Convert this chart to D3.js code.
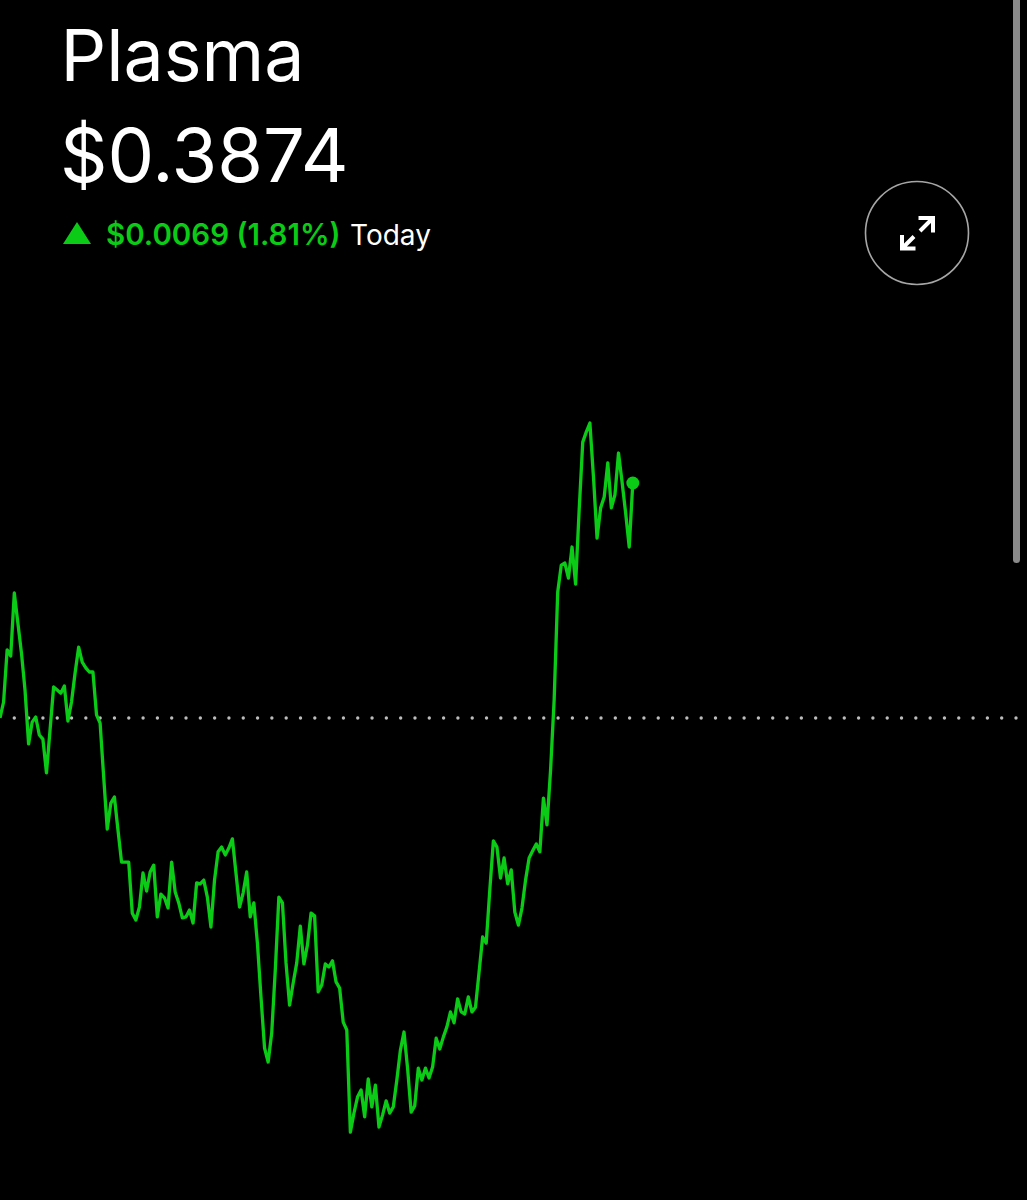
<!DOCTYPE html>
<html>
<head>
<meta charset="utf-8">
<style>
  html, body { margin: 0; background: #000; }
  svg { display: block; }
  text { font-family: Inter, "Noto Sans", sans-serif; }
</style>
</head>
<body>
<svg id="chart" width="1027" height="1200"></svg>
<script src="https://cdn.jsdelivr.net/npm/d3@7"></script>
<script>
const TITLE = "Plasma";
const LAST_PRICE = 0.3874;
const PREV_CLOSE = 0.3805;
const PRICE_LABEL = "$0.3874";
const CHANGE_LABEL = "$0.0069 (1.81%)";
const PERIOD_LABEL = "Today";

// one price per tick
const prices = [
  .38050,.38097,.38250,.38232,.38417,.38329,.38241,.38132,.37974,.38038,
  .38053,.38000,.37988,.37889,.38015,.38141,.38132,.38123,.38144,.38041,
  .38097,.38182,.38258,.38214,.38197,.38185,.38185,.38059,.38035,.37877,
  .37724,.37800,.37818,.37721,.37627,.37627,.37627,.37477,.37457,.37495,
  .37595,.37542,.37598,.37618,.37466,.37533,.37522,.37492,.37627,.37539,
  .37507,.37463,.37466,.37486,.37448,.37566,.37563,.37574,.37524,.37436,
  .37574,.37657,.37671,.37648,.37668,.37695,.37595,.37495,.37536,.37598,
  .37466,.37507,.37389,.37231,.37081,.37040,.37125,.37310,.37524,.37507,
  .37331,.37207,.37272,.37331,.37439,.37328,.37384,.37477,.37469,.37246,
  .37266,.37328,.37319,.37337,.37275,.37257,.37157,.37134,.36834,.36890,
  .36937,.36958,.36879,.36990,.36908,.36972,.36849,.36884,.36926,.36890,
  .36908,.36987,.37075,.37128,.37022,.36893,.36911,.37022,.36987,.37022,
  .36993,.37025,.37110,.37078,.37113,.37143,.37187,.37155,.37225,.37187,
  .37181,.37231,.37187,.37201,.37304,.37407,.37389,.37545,.37689,.37671,
  .37580,.37639,.37563,.37604,.37480,.37442,.37492,.37574,.37639,.37660,
  .37680,.37657,.37815,.37736,.37897,.38103,.38420,.38499,.38505,.38461,
  .38552,.38443,.38661,.38860,.38890,.38916,.38758,.38578,.38667,.38699,
  .38799,.38667,.38705,.38828,.38743,.38652,.38552,.38740
];

const GREEN = "#0bcb17";
const svg = d3.select("#chart");

const x = d3.scaleLinear().domain([0, prices.length - 1]).range([0, 632.8]);
const y = d3.scaleLinear().domain([PREV_CLOSE, LAST_PRICE]).range([718, 483]);

// ── Header ──
svg.append("text").attr("x", 60.5).attr("y", 81)
  .attr("font-size", 71.6).attr("fill", "#fff").text(TITLE);
svg.append("text").attr("x", 60).attr("y", 182)
  .attr("font-size", 74).attr("fill", "#fff").text(PRICE_LABEL);

svg.append("path")
  .attr("d", "M63,244L91,244L77,222Z")
  .attr("fill", GREEN);
svg.append("text").attr("x", 106).attr("y", 245)
  .attr("font-size", 29.5).attr("font-weight", 600).attr("fill", GREEN).text(CHANGE_LABEL);
svg.append("text").attr("x", 350).attr("y", 245)
  .attr("font-size", 28).attr("fill", "#fff").text(PERIOD_LABEL);

// ── Expand button ──
svg.append("circle")
  .attr("cx", 917).attr("cy", 233).attr("r", 51.5)
  .attr("fill", "none").attr("stroke", "#a6a6a6").attr("stroke-width", 1.6);
svg.append("path")
  .attr("d", "M918.5,218H933V232.5M933,218L920,231M902,235V248.5H915.5M902,248.5L914,236.5")
  .attr("fill", "none").attr("stroke", "#fff").attr("stroke-width", 4);

// ── Scrollbar ──
svg.append("rect")
  .attr("x", 1013).attr("y", -10).attr("width", 7).attr("height", 573).attr("rx", 3.5)
  .attr("fill", "#8a8a8a");

// ── Previous close dots ──
svg.append("line")
  .attr("x1", 14.3).attr("x2", 1027)
  .attr("y1", y(PREV_CLOSE)).attr("y2", y(PREV_CLOSE))
  .attr("stroke", "#bdbdbd").attr("stroke-width", 3.4)
  .attr("stroke-linecap", "round").attr("stroke-dasharray", "0 14.31");

// ── Price line ──
const line = d3.line().x((d, i) => x(i)).y(d => y(d));
svg.append("path")
  .datum(prices)
  .attr("d", line)
  .attr("fill", "none")
  .attr("stroke", GREEN)
  .attr("stroke-width", 3.3)
  .attr("stroke-linejoin", "round");

svg.append("circle")
  .attr("cx", x(prices.length - 1)).attr("cy", y(LAST_PRICE)).attr("r", 6.5)
  .attr("fill", GREEN);
</script>
</body>
</html>
